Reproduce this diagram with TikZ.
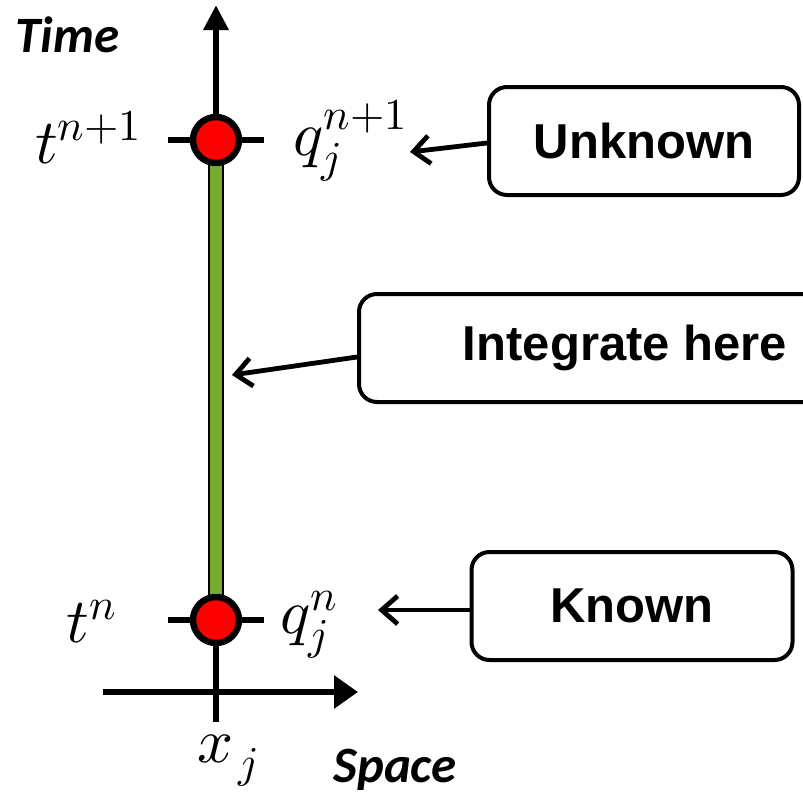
\documentclass[tikz,border=0pt]{standalone}
\usepackage{fontspec}
\usepackage{unicode-math}
\setmainfont{Liberation Sans}
\setmathfont{Latin Modern Math}
\newfontfamily\axisfont{Carlito}
\usetikzlibrary{arrows.meta}
\definecolor{bargreen}{RGB}{118,170,48}

\tikzset{
  axis/.style={line width=3.2pt},
  dot/.style={circle, draw, line width=3.2pt, fill=red, minimum size=23pt, inner sep=0pt},
  tag/.style={draw, line width=2pt, rounded corners=9pt, minimum height=54pt,
    font=\fontsize{24.5}{29}\selectfont\bfseries},
  pointer/.style={line width=2.4pt, -{Straight Barb[length=8pt,width=14pt]}},
  mathlbl/.style={inner sep=0pt, font=\fontsize{31.5}{38}\selectfont},
  axislbl/.style={inner sep=0pt, font=\fontsize{25.5}{30}\selectfont\axisfont\bfseries\itshape}
}

\begin{document}
\begin{tikzpicture}[x=0.5pt, y=-0.5pt]
  \useasboundingbox (0,0) rectangle (803,793);

  % axes
  \draw[axis, -{Triangle[length=12.5pt,width=12pt]}] (216,722) -- (216,5);
  \draw[axis, -{Triangle[length=12pt,width=16pt]}] (103,692) -- (358,692);
  \draw[axis] (168,140) -- (264,140);
  \draw[axis] (168,620) -- (264,620);

  % interval of integration
  \draw[fill=bargreen, line width=0.8pt] (209,164) rectangle (223,596);

  \node[dot] (top) at (216,140) {};
  \node[dot] (bot) at (216,620) {};

  \node[axislbl, anchor=west] (time) at (15,35) {Time};
  \node[axislbl, anchor=west] (space) at (333,770) {Space};

  \node[mathlbl, anchor=base east] (tnp) at (142,163) {$t^{n+1}$};
  \node[mathlbl, anchor=base east] (tn) at (117,642) {$t^{n}$};
  \node[mathlbl, anchor=base west] (qnp) at (293,155) {$q_j^{n+1}$};
  \node[mathlbl, anchor=base west] (qn) at (280,633) {$q_j^{n}$};
  \node[mathlbl, anchor=base west] (xj) at (197,762) {$x_{\mkern2mu j}$};

  % call-outs
  \node[tag, minimum width=155pt] (unknown) at (644,141) {Unknown};
  \node[tag, minimum width=266pt] (integ) at (625,348) {Integrate here};
  \node[tag, minimum width=160.5pt] (known) at (632,606) {Known};

  \coordinate (pu) at (410,152);
  \coordinate (pi) at (232,375);
  \coordinate (pk) at (378,610);
  \draw[pointer] ([yshift=-1pt]unknown.west) -- (pu);
  \draw[pointer] ([yshift=-4.5pt]integ.west) -- (pi);
  \draw[pointer] ([yshift=-2pt]known.west) -- (pk);
\end{tikzpicture}
\end{document}
